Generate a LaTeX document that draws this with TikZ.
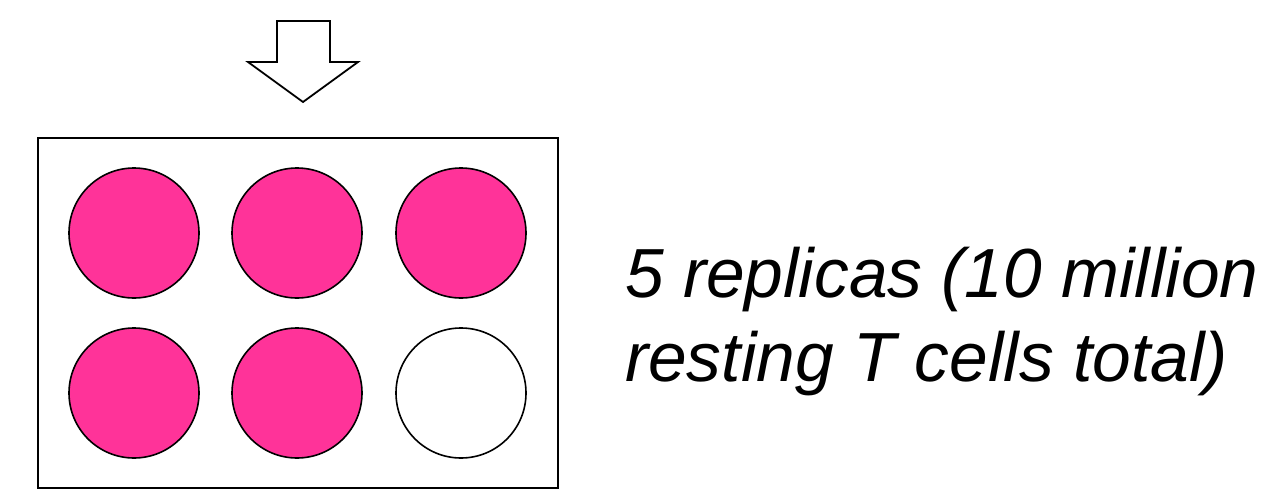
\documentclass[tikz,border=0pt]{standalone}
\usepackage{fontspec}
\setmainfont{Liberation Sans}
\definecolor{wellpink}{RGB}{255,51,153}
\begin{document}
\begin{tikzpicture}[x=1pt,y=-1pt,
  well/.style={circle,draw=black,line width=1.6pt,minimum size=130pt,inner sep=0pt},
  filled/.style={well,fill=wellpink},
  plate/.style={draw=black,line width=1.8pt},
  blockarrow/.style={draw=black,line width=1.8pt,fill=white,line join=miter},
  lbl/.style={font=\fontsize{69.5}{87}\selectfont\itshape,anchor=base west,inner sep=0pt}]
\useasboundingbox (0,0) rectangle (1272,490);
\draw[blockarrow] (277,21) -- (330,21) -- (330,62) -- (358,62) -- (303,102) -- (248,62) -- (277,62) -- cycle;
\node[plate,minimum width=520pt,minimum height=350pt,inner sep=0pt] (plate) at (298,313) {};
\node[filled] (w1) at (134,233) {};
\node[filled] (w2) at (297,233) {};
\node[filled] (w3) at (461,233) {};
\node[filled] (w4) at (134,393) {};
\node[filled] (w5) at (297,393) {};
\node[well,fill=white] (w6) at (461,393) {};
\node[lbl] (t1) at (625,297) {5 replicas (10 million};
\node[lbl] (t2) at (625,381) {resting T cells total)};
\end{tikzpicture}
\end{document}
